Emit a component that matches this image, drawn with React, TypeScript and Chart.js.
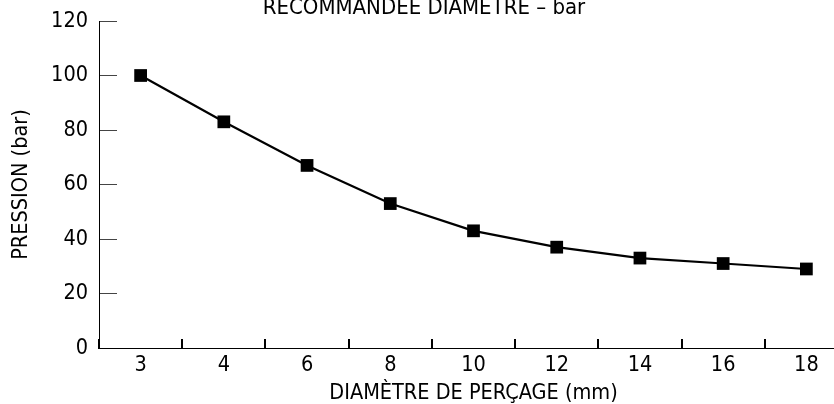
import React, { useEffect, useRef } from "react";
import { Chart, registerables } from "chart.js";

Chart.register(...registerables);

const categories = ["3", "4", "6", "8", "10", "12", "14", "16", "18"];
const pressureValues = [100, 83, 67, 53, 43, 37, 33, 31, 29];
const yMin = 0;
const yMax = 120;
const yStep = 20;

const chartTitle = "RECOMMANDÉE DIAMÈTRE – bar";
const xTitle = "DIAMÈTRE DE PERÇAGE (mm)";
const yTitle = "PRESSION (bar)";

const FAMILY = "'Liberation Sans Narrow', 'DejaVu Sans Condensed', 'Arial Narrow', sans-serif";

export default function App() {
  const ref = useRef<HTMLCanvasElement | null>(null);

  useEffect(() => {
    if (!ref.current) return;
    const font = { family: FAMILY, size: 21.5, lineHeight: 1.2 };
    const titleFont = { family: FAMILY, size: 21.5, lineHeight: 1 };
    const chart = new Chart(ref.current, {
      type: "line",
      data: {
        labels: categories,
        datasets: [
          {
            data: pressureValues,
            borderColor: "#000",
            backgroundColor: "#000",
            borderWidth: 2.2,
            pointStyle: "rect",
            pointRadius: 9,
            pointHoverRadius: 9,
            pointBackgroundColor: "#000",
            pointBorderColor: "#000",
            pointBorderWidth: 0,
            tension: 0,
            fill: false,
          },
        ],
      },
      options: {
        responsive: false,
        animation: false,
        devicePixelRatio: 1,
        layout: { padding: 0, autoPadding: false },
        plugins: {
          legend: { display: false },
          tooltip: { enabled: false },
          title: {
            display: true,
            text: chartTitle,
            color: "#000",
            font: { family: FAMILY, size: 22, lineHeight: 1, weight: "normal" },
            padding: { top: 2, bottom: 2 },
          },
        },
        scales: {
          x: {
            type: "category",
            offset: true,
            afterFit: (s: any) => {
              s.height = 56;
              s.paddingLeft = 0;
              s.paddingRight = 0;
            },
            grid: {
              offset: true,
              drawOnChartArea: false,
              drawTicks: true,
              tickLength: -9,
              color: "#000",
              lineWidth: 2,
            },
            border: { display: true, color: "#000", width: 1 },
            ticks: { color: "#000", font, padding: 13.8, maxRotation: 0, autoSkip: false },
            title: {
              display: true,
              text: xTitle,
              color: "#000",
              font: titleFont,
              padding: { top: 0, bottom: 0 },
            },
          },
          y: {
            min: yMin,
            max: yMax,
            afterFit: (s: any) => {
              s.width = 99;
              s.paddingTop = 0;
              s.paddingBottom = 0;
            },
            grid: {
              drawOnChartArea: false,
              drawTicks: true,
              tickLength: -18,
              color: "#444",
              lineWidth: 1,
            },
            border: { display: true, color: "#000", width: 1 },
            ticks: { stepSize: yStep, color: "#000", font, padding: 29 },
            title: {
              display: true,
              text: yTitle,
              color: "#000",
              font: titleFont,
              padding: { top: 11, bottom: 0 },
            },
          },
        },
      },
    });
    return () => chart.destroy();
  }, []);

  return (
    <div
      style={{
        position: "fixed",
        top: 0,
        left: 0,
        width: 834,
        height: 404,
        overflow: "hidden",
        background: "#fff",
      }}
    >
      <canvas
        ref={ref}
        width={848}
        height={409}
        style={{ position: "absolute", top: -5, left: 0, width: 848, height: 409 }}
      />
    </div>
  );
}
